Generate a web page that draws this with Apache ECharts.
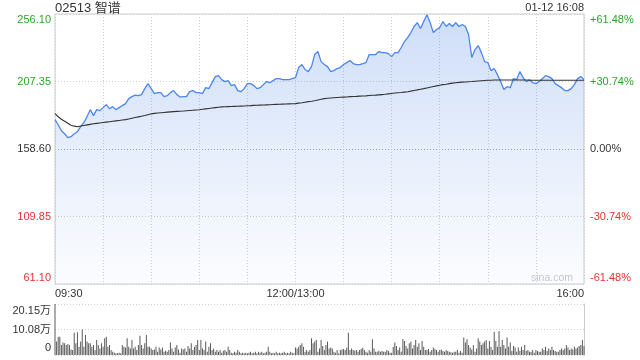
<!DOCTYPE html>
<html><head><meta charset="utf-8">
<script src="https://cdn.jsdelivr.net/npm/echarts@6/dist/echarts.min.js"></script>
<style>html,body{margin:0;padding:0;background:#fff}#c{width:640px;height:360px}</style>
</head><body><div id="c"></div>
<script>
const stockTitle = '02513 智谱';
const stampText = '01-12 16:08';
const watermark = 'sina.com';
const prevClose = 158.60;
// minutes since 09:30 (lunch break removed) -> label
const timeTicks = {0: '09:30', 150: '12:00/13:00', 330: '16:00'};
const priceTickLabels = ['61.10', '109.85', '158.60', '207.35', '256.10'];
const pctTickLabels = ['-61.48%', '-30.74%', '0.00%', '+30.74%', '+61.48%'];
const volTickLabels = ['0', '10.08万', '20.15万'];
const priceStepMin = 2;

// last price, one value every 2 minutes
const price = [
179.8,176.1,171.8,169.6,166.8,167.5,169.6,171.1,174.7,177.6,
182.0,187.0,182.7,187.0,186.3,188.5,190.6,187.7,189.2,187.0,
188.5,189.9,191.4,195.0,196.4,197.5,197.1,197.9,202.2,205.8,
202.2,198.6,199.3,199.3,196.4,197.1,199.3,200.8,197.9,196.1,
196.4,196.4,200.0,200.8,199.3,199.3,198.6,202.9,202.2,206.5,
210.9,211.6,208.7,207.3,208.0,204.4,205.1,200.8,200.0,202.2,
205.8,205.8,204.4,202.2,202.9,205.1,207.3,206.5,208.0,209.4,
209.4,208.7,208.7,208.7,209.4,210.1,217.4,219.6,216.0,214.5,
218.1,226.8,229.0,221.7,219.6,218.1,214.5,215.2,216.7,217.4,
219.6,221.0,222.5,220.3,219.6,219.6,220.3,221.0,226.8,226.8,
226.8,229.0,228.2,228.2,227.5,225.3,228.2,228.2,231.9,236.2,
239.1,242.7,247.1,249.9,245.6,250.7,255.6,249.9,242.7,244.9,
246.3,250.7,247.1,249.2,247.1,249.9,247.1,248.5,247.1,241.3,
224.7,230.4,233.3,228.2,221.7,221.0,215.2,216.7,212.3,207.3,
201.5,203.6,202.9,209.4,208.7,214.5,210.1,207.3,208.7,206.5,
205.8,207.3,209.4,211.6,210.9,209.4,205.8,204.4,202.9,200.8,
200.8,202.2,205.1,209.4,210.9,208.7
];

// average price, one value every 2 minutes
const avgPrice = [
184.1,181.9,180.1,178.7,177.2,175.8,175.1,174.7,175.2,175.6,
176.0,176.4,176.8,177.1,177.4,177.7,178.0,178.3,178.6,178.9,
179.2,179.5,179.8,180.3,180.8,181.3,181.8,182.3,182.8,183.4,
184.0,184.3,184.6,184.8,185.0,185.2,185.4,185.6,185.8,185.9,
186.0,186.2,186.4,186.6,186.8,187.0,187.3,187.6,187.9,188.2,
188.5,188.8,189.0,189.1,189.2,189.3,189.4,189.5,189.6,189.7,
189.8,189.9,190.1,190.2,190.3,190.4,190.5,190.6,190.7,190.8,
190.9,191.0,191.1,191.2,191.3,191.4,191.7,192.0,192.4,192.8,
193.1,193.5,194.0,194.5,195.0,195.2,195.4,195.6,195.8,196.0,
196.1,196.2,196.4,196.5,196.6,196.8,196.9,197.0,197.2,197.4,
197.5,197.7,197.9,198.1,198.4,198.7,199.0,199.2,199.4,199.7,
200.0,200.4,200.9,201.3,201.8,202.2,202.7,203.2,203.7,204.2,
204.7,205.1,205.4,205.8,206.2,206.5,206.7,206.9,207.0,207.2,
207.3,207.5,207.7,207.9,208.1,208.3,208.3,208.4,208.4,208.4,
208.4,208.4,208.4,208.4,208.4,208.4,208.4,208.4,208.3,208.3,
208.3,208.3,208.3,208.3,208.3,208.2,208.2,208.2,208.2,208.2,
208.2,208.2,208.2,208.2,208.2,208.2
];

// volume per minute, in 万股
const volume = [
20.15,5.3,7.2,7.2,4.0,4.9,4.6,4.0,4.3,4.0,
2.2,2.0,8.8,4.6,9.0,3.3,5.3,10.1,3.3,7.9,
5.3,4.6,4.6,3.3,4.0,2.0,5.9,4.0,2.6,4.6,
3.3,6.6,7.2,3.3,4.0,2.0,1.3,0.9,0.7,0.7,
0.9,0.7,4.0,3.3,3.0,6.6,3.3,2.6,5.9,2.6,
3.3,2.0,4.0,7.6,4.0,2.6,4.6,7.9,3.3,3.3,
2.6,2.0,2.2,3.3,1.3,3.0,2.2,3.0,1.3,1.7,
1.3,2.0,4.9,2.6,1.3,3.0,4.0,2.2,0.9,2.6,
2.2,2.6,1.3,3.6,2.6,4.6,2.0,3.3,4.0,5.9,
2.0,5.9,2.6,2.0,5.3,1.3,3.3,4.6,2.0,2.6,
1.3,2.0,1.3,2.0,0.9,1.7,2.0,1.3,3.3,2.0,
0.9,0.7,1.3,0.9,2.0,1.3,0.7,0.9,0.7,0.9,
0.7,0.9,1.3,0.7,0.9,1.3,0.7,1.3,0.9,1.3,
0.7,0.9,1.3,3.3,1.3,0.7,0.9,0.7,1.3,0.7,
0.9,0.7,0.9,1.3,0.7,0.9,0.7,1.3,0.9,0.7,
3.0,2.6,3.3,4.0,4.6,3.3,1.3,2.0,1.3,2.0,
6.6,4.6,5.3,5.9,1.3,2.6,
5.9,3.6,2.0,4.0,5.3,2.6,3.0,2.6,1.3,0.9,
2.0,0.7,2.0,2.2,2.4,2.0,2.9,8.8,2.0,2.6,
2.0,1.7,2.0,1.3,2.0,2.4,2.9,2.0,1.3,0.9,
2.0,1.3,6.2,2.6,1.3,1.3,1.7,1.3,1.6,1.3,
1.3,2.0,1.6,0.9,
0.9,3.3,4.9,3.6,2.0,3.0,1.3,6.3,5.5,3.6,
2.6,4.6,5.3,2.6,4.0,5.9,3.3,4.6,2.0,5.5,
3.3,2.0,2.0,2.4,1.3,2.0,3.0,2.4,2.0,1.3,
2.0,2.2,1.6,1.3,2.0,1.6,1.3,1.1,0.9,1.3,
1.3,2.0,0.9,1.6,
0.9,6.9,4.9,6.2,4.0,3.0,2.2,4.0,1.3,2.6,
6.6,5.3,4.0,4.6,5.3,5.9,2.6,5.5,3.3,2.0,
9.2,5.5,3.3,9.5,3.3,5.9,4.0,2.6,6.9,3.3,
4.9,1.6,3.6,3.0,1.3,3.0,1.7,3.3,2.0,4.0,
1.6,2.0,1.3,
1.3,2.0,0.9,2.0,1.6,1.3,1.3,2.6,2.0,3.3,
1.6,2.6,2.0,3.3,2.0,1.6,1.3,1.3,2.0,2.6,
2.0,2.6,
4.0,3.0,2.0,2.6,2.2,3.3,2.6,3.0,3.6,4.0,
5.9,3.6
];

const GREEN = '#2aa52a', RED = '#e83232', DARK = '#333';
const FONT = 'Arial, "Liberation Sans", "Noto Sans CJK SC", sans-serif';
const sideStyles = ['rb', 'r', 'd', 'g', 'gt'];
const rich = {
  rb: {color: RED, fontSize: 11, padding: [0, 0, 12, 0]},
  r: {color: RED, fontSize: 11},
  d: {color: DARK, fontSize: 11},
  g: {color: GREEN, fontSize: 11},
  gt: {color: GREEN, fontSize: 11, padding: [12, 0, 0, 0]}
};
const volRich = {
  vb: {color: DARK, fontSize: 11, padding: [0, 0, 14, 0]},
  v: {color: DARK, fontSize: 11},
  vt: {color: DARK, fontSize: 11, padding: [14, 0, 0, 0]}
};
const volStyles = ['vb', 'v', 'vt'];

const chart = echarts.init(document.getElementById('c'), null, {renderer: 'canvas'});
const half = 97.5, step = 48.75;
const dotted = {color: '#cfcfcf', type: [1, 2], width: 1};

chart.setOption({
  animation: false,
  textStyle: {fontFamily: FONT},
  title: [
    {text: stockTitle, left: 55, top: 2, padding: 0,
     textStyle: {fontSize: 13, fontWeight: 'normal', color: DARK, fontFamily: FONT}},
    {text: stampText, right: 56, top: 2, padding: 0,
     textStyle: {fontSize: 11, fontWeight: 'normal', color: DARK, fontFamily: FONT}}
  ],
  graphic: [{
    type: 'text', right: 67, top: 273, silent: true,
    style: {text: watermark, fill: '#c8c8c8', font: '10.5px ' + FONT}
  }],
  grid: [
    {left: 55, right: 56, top: 14, height: 270, show: true, borderColor: '#cccccc', borderWidth: 1},
    {left: 55, right: 56, top: 304, height: 51}
  ],
  xAxis: [
    {type: 'value', gridIndex: 0, min: 0, max: 330, interval: 30,
     axisLine: {show: false}, axisTick: {show: false},
     splitLine: {show: true, lineStyle: dotted},
     axisLabel: {
       margin: 4, fontSize: 11, color: DARK, hideOverlap: false,
       formatter: v => {
         if (v === 0) return '{a|' + timeTicks[v] + '}';
         if (v === 330) return '{z|' + timeTicks[v] + '}';
         return timeTicks[v] || '';
       },
       rich: {
         a: {fontSize: 11, color: DARK, padding: [0, 0, 0, 27.5]},
         z: {fontSize: 11, color: DARK, padding: [0, 27.5, 0, 0]}
       }
     }},
    {type: 'value', gridIndex: 1, min: 0, max: 330, show: false, splitLine: {show: false}}
  ],
  yAxis: [
    {type: 'value', gridIndex: 0, position: 'left', min: -half, max: half, interval: step,
     axisLine: {show: false}, axisTick: {show: false},
     splitLine: {show: true, lineStyle: {color: ['#cfcfcf', '#cfcfcf', '#a8a8a8', '#cfcfcf', '#cfcfcf'], type: [1, 2], width: 1}},
     axisLabel: {margin: 4, fontSize: 11,
       formatter: (v, i) => '{' + sideStyles[i] + '|' + priceTickLabels[i] + '}', rich: rich}},
    {type: 'value', gridIndex: 0, position: 'right', min: -half, max: half, interval: step,
     axisLine: {show: false}, axisTick: {show: false}, splitLine: {show: false},
     axisLabel: {margin: 6, fontSize: 11,
       formatter: (v, i) => '{' + sideStyles[i] + '|' + pctTickLabels[i] + '}', rich: rich}},
    {type: 'value', gridIndex: 1, position: 'left', min: 0, max: 20.15, interval: 10.075,
     axisLine: {show: false}, axisTick: {show: false},
     splitLine: {show: true, lineStyle: dotted},
     axisLabel: {margin: 4, fontSize: 11,
       formatter: (v, i) => '{' + volStyles[i] + '|' + volTickLabels[i] + '}', rich: volRich}},
    {type: 'value', gridIndex: 1, position: 'right', min: 0, max: 20.15,
     axisLine: {show: true, lineStyle: {color: '#cccccc', width: 1}},
     axisTick: {show: false}, axisLabel: {show: false}, splitLine: {show: false}}
  ],
  series: [
    {type: 'line', xAxisIndex: 0, yAxisIndex: 0, showSymbol: false, z: 3,
     data: price.map((p, i) => [i * priceStepMin, p - prevClose]),
     lineStyle: {color: '#4c86ee', width: 1.3},
     areaStyle: {origin: 'start', color: new echarts.graphic.LinearGradient(0, 0, 0, 1, [
       {offset: 0, color: 'rgba(80,135,230,0.40)'},
       {offset: 0.5, color: 'rgba(80,135,230,0.20)'},
       {offset: 1, color: 'rgba(80,135,230,0.03)'}
     ])}},
    {type: 'line', xAxisIndex: 0, yAxisIndex: 0, showSymbol: false, z: 4,
     data: avgPrice.map((p, i) => [i * priceStepMin, p - prevClose]),
     lineStyle: {color: '#333333', width: 1.1}},
    {type: 'bar', xAxisIndex: 1, yAxisIndex: 2, barWidth: 1,
     data: volume.map((v, i) => [i, v]),
     itemStyle: {color: '#5a5a5a'}}
  ]
});
</script></body></html>
